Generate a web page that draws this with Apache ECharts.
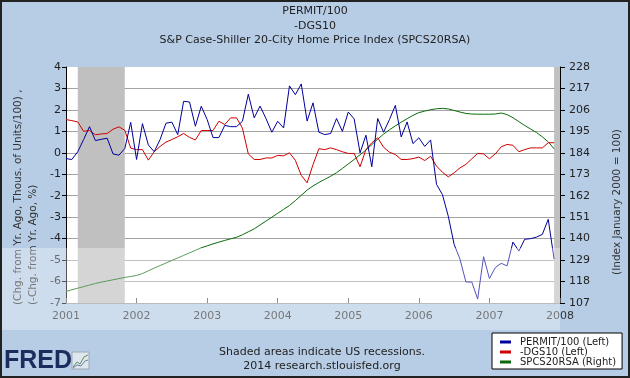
<!DOCTYPE html>
<html>
<head>
<meta charset="utf-8">
<script src="https://cdn.jsdelivr.net/npm/echarts@6/dist/echarts.min.js"></script>
<style>
  html, body { margin: 0; padding: 0; background: #b7cde6; }
  #c { width: 630px; height: 378px; }
</style>
</head>
<body>
<div id="c"></div>
<script>
// ---- Data (monthly, Jan 2001 .. Dec 2007) ----
const startYear = 2001;
const titleLines = ['PERMIT/100', '-DGS10', 'S&P Case-Shiller 20-City Home Price Index (SPCS20RSA)'];
const seriesNames = ['PERMIT/100 (Left)', '-DGS10 (Left)', 'SPCS20RSA (Right)'];
const xTicks = [2001, 2002, 2003, 2004, 2005, 2006, 2007, 2008];

const permit = [
  -0.27, -0.31, 0.05, 0.62, 1.22, 0.57, 0.63, 0.68, -0.05, -0.11, 0.2, 1.42,
  -0.31, 1.36, 0.37, 0.05, 0.62, 1.38, 1.43, 0.85, 2.4, 2.37, 1.24, 2.17,
  1.55, 0.71, 0.71, 1.28, 1.22, 1.22, 1.47, 2.73, 1.63, 2.18, 1.6, 0.96,
  1.47, 1.16, 3.12, 2.71, 3.21, 1.48, 2.33, 0.96, 0.85, 0.9, 1.6, 1.0,
  1.9, 1.58, 0.0, 0.82, -0.65, 1.6, 0.96, 1.55, 2.21, 0.74, 1.44, 0.43,
  0.7, 0.3, 0.6, -1.47, -1.94, -2.95, -4.27, -4.96, -6.02, -6.02, -6.82, -4.84,
  -5.86, -5.35, -5.15, -5.27, -4.16, -4.58, -4.03, -4.0, -3.93, -3.8, -3.1, -4.96
];
const dgs10 = [
  1.55, 1.5, 1.44, 1.0, 1.04, 0.84, 0.88, 0.9, 1.1, 1.21, 1.05, 0.22,
  0.15, 0.15, -0.34, 0.05, 0.3, 0.5, 0.62, 0.75, 0.9, 0.72, 0.6, 1.04,
  1.04, 1.04, 1.47, 1.32, 1.63, 1.63, 1.15, -0.05, -0.31, -0.31, -0.24, -0.24,
  -0.12, -0.14, 0.0, -0.35, -1.05, -1.4, -0.55, 0.19, 0.15, 0.23, 0.15, 0.05,
  -0.03, -0.03, -0.65, 0.15, 0.47, 0.7, 0.26, 0.03, -0.08, -0.31, -0.31, -0.27,
  -0.2, -0.36, -0.16, -0.62, -0.9, -1.12, -0.93, -0.7, -0.54, -0.28, -0.03, -0.05,
  -0.28, -0.05, 0.28, 0.39, 0.35, 0.05, 0.15, 0.23, 0.23, 0.23, 0.47, 0.47
];
const spcs20 = [
  112.9, 113.8, 114.6, 115.4, 116.2, 117.0, 117.7, 118.3, 118.9, 119.5, 120.1, 120.6,
  121.1, 122.1, 123.5, 124.9, 126.2, 127.5, 128.8, 130.1, 131.4, 132.7, 134.0, 135.3,
  136.3, 137.3, 138.2, 139.1, 139.9, 140.7, 142.0, 143.5, 145.0, 147.0, 149.0, 151.0,
  153.0, 155.0, 157.0, 159.5, 162.2, 164.9, 167.0, 168.8, 170.4, 172.0, 173.8, 176.0,
  178.3, 180.6, 183.0, 185.4, 188.2, 191.0, 193.6, 195.8, 197.8, 199.7, 201.5, 203.2,
  204.6, 205.4, 206.1, 206.6, 206.8, 206.5, 205.7, 204.9, 204.2, 203.9, 203.8, 203.8,
  203.8, 203.9, 204.4, 203.6, 202.0, 200.0, 198.0, 196.2, 194.4, 192.2, 189.6, 186.0
];
// recessions as [start, end] in fractional years
const recessions = [[2001 + 2/12, 2001 + 10/12], [2007 + 11/12, 2008]];

// ---- Build ----
const toXY = arr => arr.map((v, i) => [startYear + i / 12, v]);
const FONT = 'DejaVu Sans';

const chart = echarts.init(document.getElementById('c'), null, { renderer: 'canvas' });
const option = {
  animation: false,
  backgroundColor: '#b7cde6',
  textStyle: { fontFamily: FONT },
  grid: { left: 66, right: 70, top: 67, bottom: 75, show: true, backgroundColor: '#ffffff', borderWidth: 0 },
  xAxis: {
    type: 'value', min: xTicks[0], max: xTicks[xTicks.length - 1], interval: 1,
    axisLine: { show: true, onZero: false, lineStyle: { color: '#9a9a9a', width: 1 } },
    axisTick: { show: true, inside: true, length: 5, lineStyle: { color: '#555' } },
    axisLabel: { color: '#333', fontSize: 11, fontFamily: FONT, margin: 8, formatter: v => String(v) },
    splitLine: { show: false }
  },
  yAxis: [
    {
      type: 'value', min: -7, max: 4, interval: 1, position: 'left',
      axisLine: { show: true, lineStyle: { color: '#000', width: 1 } },
      axisTick: { show: true, length: 4, lineStyle: { color: '#000' } },
      axisLabel: { color: '#222', fontSize: 11, fontFamily: FONT, margin: 5 },
      splitLine: { show: true, showMinLine: false, showMaxLine: false, lineStyle: { color: '#a3a3a3', width: 1 } }
    },
    {
      type: 'value', min: 107, max: 228, interval: 11, position: 'right',
      axisLine: { show: true, lineStyle: { color: '#000', width: 1 } },
      axisTick: { show: true, length: 5, lineStyle: { color: '#000' } },
      axisLabel: { color: '#222', fontSize: 11, fontFamily: FONT, margin: 9 },
      splitLine: { show: false }
    }
  ],
  legend: {
    data: seriesNames,
    orient: 'vertical', left: 492, top: 333,
    backgroundColor: '#ffffff', borderColor: '#000', borderWidth: 1,
    padding: [4, 6, 2, 8], itemGap: 0, itemWidth: 11, itemHeight: 3,
    icon: 'rect',
    textStyle: { fontSize: 10, color: '#222', fontFamily: FONT, padding: [0, 0, 0, 4] }
  },
  graphic: [
    { type: 'text', left: 'center', top: 6, style: { text: titleLines[0], font: '11px "DejaVu Sans"', fill: '#222' } },
    { type: 'text', left: 'center', top: 21, style: { text: titleLines[1], font: '11px "DejaVu Sans"', fill: '#222' } },
    { type: 'text', left: 'center', top: 35, style: { text: titleLines[2], font: '11px "DejaVu Sans"', fill: '#222' } },
    { type: 'text', x: 18, y: 305, rotation: Math.PI / 2, silent: true,
      style: { text: '(Chg. from Yr. Ago, Thous. of Units/100) ,', font: '10.5px "DejaVu Sans"', fill: '#333', align: 'left', verticalAlign: 'middle' } },
    { type: 'text', x: 33, y: 305, rotation: Math.PI / 2, silent: true,
      style: { text: '(-Chg. from Yr. Ago, %)', font: '10.5px "DejaVu Sans"', fill: '#333', align: 'left', verticalAlign: 'middle' } },
    { type: 'text', x: 617, y: 202, rotation: Math.PI / 2, silent: true,
      style: { text: '(Index January 2000 = 100)', font: '10.5px "DejaVu Sans"', fill: '#333', align: 'center', verticalAlign: 'middle' } },
    { type: 'text', x: 322, y: 352, silent: true,
      style: { text: 'Shaded areas indicate US recessions.', font: '11px "DejaVu Sans"', fill: '#222', align: 'center', verticalAlign: 'middle' } },
    { type: 'text', x: 322, y: 366, silent: true,
      style: { text: '2014 research.stlouisfed.org', font: '11px "DejaVu Sans"', fill: '#222', align: 'center', verticalAlign: 'middle' } },
    { type: 'text', x: 4, y: 361, silent: true,
      style: { text: 'FRED', font: 'bold 25px "Liberation Sans"', fill: '#1b2d5c', align: 'left', verticalAlign: 'middle' } },
    { type: 'rect', silent: true, shape: { x: 72, y: 352, width: 17, height: 17 }, style: { fill: '#dfe6ee', stroke: '#9aa7b5', lineWidth: 1 } },
    { type: 'polyline', silent: true, shape: { points: [[73, 367], [77, 362], [80, 364], [84, 357], [88, 355]] }, style: { stroke: '#5f8f5f', lineWidth: 1, fill: null } },
    { type: 'polyline', silent: true, shape: { points: [[73, 368], [77, 365], [81, 366], [85, 361], [88, 360]] }, style: { stroke: '#6a7fa8', lineWidth: 1, fill: null } },
    { type: 'rect', silent: true, z: 100, shape: { x: 0, y: 248, width: 560, height: 82 }, style: { fill: 'rgba(255,255,255,0.33)' } },
    { type: 'rect', silent: true, z: 101, shape: { x: 1, y: 1, width: 628, height: 376 }, style: { fill: null, stroke: '#222', lineWidth: 2 } }
  ],
  series: [
    {
      name: 'recessions', type: 'line', data: [], z: 1, silent: true,
      markArea: {
        silent: true,
        itemStyle: { color: '#c0c0c0' },
        data: recessions.map(r => [{ xAxis: r[0] }, { xAxis: r[1] }])
      }
    },
    { name: seriesNames[2], type: 'line', yAxisIndex: 1, data: toXY(spcs20), showSymbol: false, z: 3,
      lineStyle: { color: '#0b6b0b', width: 1 }, itemStyle: { color: '#0b6b0b' } },
    { name: seriesNames[1], type: 'line', yAxisIndex: 0, data: toXY(dgs10), showSymbol: false, z: 3,
      lineStyle: { color: '#d00000', width: 1 }, itemStyle: { color: '#d00000' } },
    { name: seriesNames[0], type: 'line', yAxisIndex: 0, data: toXY(permit), showSymbol: false, z: 4,
      lineStyle: { color: '#00009c', width: 1 }, itemStyle: { color: '#00009c' } }
  ]
};
chart.setOption(option);
</script>
</body>
</html>
